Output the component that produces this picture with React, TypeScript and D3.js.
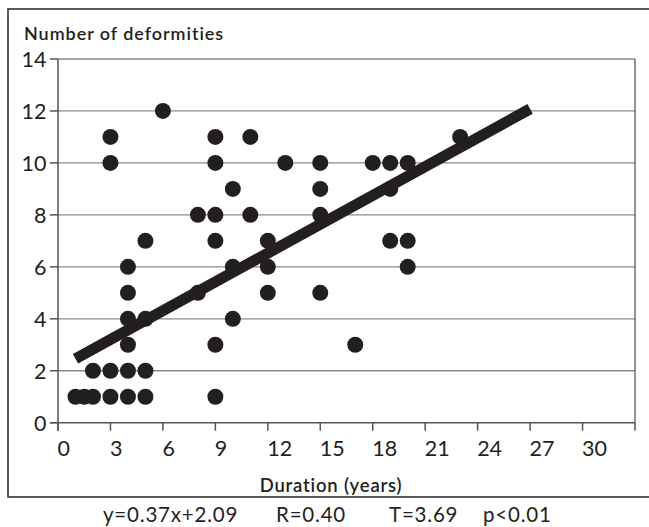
import React from 'react';
import * as d3 from 'd3';

// Duration (years) and number of deformities for each patient
const durations = [
  1, 1.5, 2, 3, 4, 5, 9,
  2, 3, 4, 5,
  4, 9, 17,
  4, 5, 10,
  4, 8, 12, 15,
  4, 10, 12, 20,
  5, 9, 12, 19, 20,
  8, 9, 11, 15,
  10, 15, 19,
  3, 9, 13, 15, 18, 19, 20,
  3, 9, 11, 23,
  6,
];
const deformities = [
  1, 1, 1, 1, 1, 1, 1,
  2, 2, 2, 2,
  3, 3, 3,
  4, 4, 4,
  5, 5, 5, 5,
  6, 6, 6, 6,
  7, 7, 7, 7, 7,
  8, 8, 8, 8,
  9, 9, 9,
  10, 10, 10, 10, 10, 10, 10,
  11, 11, 11, 11,
  12,
];

const xTicks = [0, 3, 6, 9, 12, 15, 18, 21, 24, 27, 30, 33];
const yTicks = [0, 2, 4, 6, 8, 10, 12, 14];

const slope = 0.37;
const intercept = 2.09;
const fitRange = [1, 27];
const stats = ['y=0.37x+2.09', 'R=0.40', 'T=3.69', 'p<0.01'];

const W = 649;
const H = 527;
const font = 'Lato, "Open Sans", sans-serif';
const ink = '#231f20';

export default function App() {
  const x = d3.scaleLinear().domain([0, 33]).range([58, 635]);
  const y = d3.scaleLinear().domain([0, 14]).range([422.7, 59]);

  const fit = d3
    .line<number>()
    .x((d) => x(d))
    .y((d) => y(slope * d + intercept));

  const statX = [103, 276, 389, 483];

  return (
    <svg
      width={W}
      height={H}
      style={{ position: 'absolute', left: 0, top: 0, display: 'block', background: '#fff' }}
    >
      {/* outer frame */}
      <rect x={8} y={9} width={700} height={488} fill="none" stroke="#333" strokeWidth={1.6} />

      <text x={24} y={39.5} fontFamily={font} fontSize={18} fontWeight={600} letterSpacing={0.95} fill={ink}>
        Number of deformities
      </text>

      {/* grid lines */}
      {yTicks.filter((t) => t > 0).map((t) => (
        <line key={`g${t}`} x1={x(0)} x2={x(33)} y1={y(t)} y2={y(t)} stroke="#8a8a8a" strokeWidth={1.3} />
      ))}
      <line x1={x(33)} x2={x(33)} y1={y(14)} y2={y(0)} stroke="#666" strokeWidth={1.4} />

      {/* y axis */}
      <line x1={x(0)} x2={x(0)} y1={y(14)} y2={y(0) + 8} stroke="#555" strokeWidth={1.5} />
      {yTicks.map((t) => (
        <g key={`y${t}`}>
          <line x1={x(0) - 8} x2={x(0)} y1={y(t)} y2={y(t)} stroke="#555" strokeWidth={1.5} />
          <text x={46.5} y={y(t) + 7.8} textAnchor="end" fontFamily={font} fontSize={21.5} fill={ink}>
            {t}
          </text>
        </g>
      ))}

      {/* x axis */}
      <line x1={x(0) - 8} x2={x(33)} y1={y(0)} y2={y(0)} stroke="#555" strokeWidth={1.5} />
      {xTicks.map((t) => (
        <g key={`x${t}`}>
          <line x1={x(t)} x2={x(t)} y1={y(0)} y2={y(0) + 8} stroke="#555" strokeWidth={1.5} />
          {t <= 30 && (
            <text x={x(t) - 0.5} y={456} fontFamily={font} fontSize={21.5} fill={ink}>
              {t}
            </text>
          )}
        </g>
      ))}

      <text x={331} y={491.5} textAnchor="middle" fontFamily={font} fontSize={18.5} fontWeight={600} letterSpacing={0.8} fill={ink}>
        Duration (years)
      </text>

      {/* points */}
      {durations.map((d, i) => (
        <circle key={i} cx={x(d)} cy={y(deformities[i])} r={8} fill={ink} />
      ))}

      {/* regression line */}
      <path d={fit(fitRange) ?? ''} fill="none" stroke={ink} strokeWidth={11} />

      {stats.map((s, i) => (
        <text key={s} x={statX[i]} y={522} fontFamily={font} fontSize={20.5} letterSpacing={0.8} fill={ink}>
          {s}
        </text>
      ))}
    </svg>
  );
}
